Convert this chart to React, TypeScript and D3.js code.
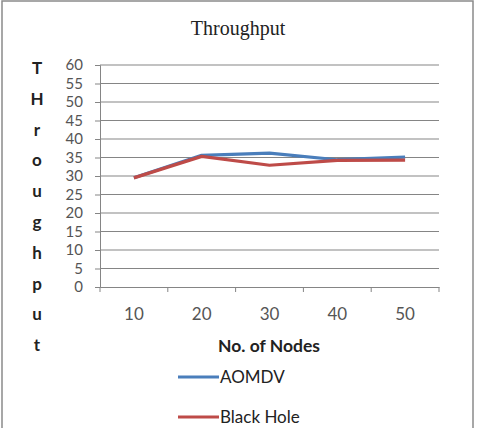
import React, { useEffect, useRef } from 'react';
import * as d3 from 'd3';

const nodes = ['10', '20', '30', '40', '50'];
const aomdv = [29.5, 35.6, 36.2, 34.4, 35.1];
const blackHole = [29.5, 35.3, 32.9, 34.2, 34.3];
const yTicks = [0, 5, 10, 15, 20, 25, 30, 35, 40, 45, 50, 55, 60];
const yTitleLetters = ['T', 'H', 'r', 'o', 'u', 'g', 'h', 'p', 'u', 't'];

const W = 478, H = 428;
const font = 'Lato, "Open Sans", sans-serif';

function App() {
  const ref = useRef<SVGSVGElement | null>(null);

  useEffect(() => {
    const svg = d3.select(ref.current);
    svg.selectAll('*').remove();

    // outer frame
    svg.append('rect')
      .attr('x', 2).attr('y', 1).attr('width', 471).attr('height', 430)
      .attr('fill', '#fff').attr('stroke', '#8a8a8a').attr('stroke-width', 1.5);

    const left = 100, right = 439, top = 65, bottom = 287;

    const x = d3.scaleBand().domain(nodes).range([left, right]).padding(0);
    const y = d3.scaleLinear().domain([0, 60]).range([bottom, top]);

    // title
    svg.append('text')
      .attr('x', 238).attr('y', 35)
      .attr('text-anchor', 'middle')
      .style('font-family', '"Liberation Serif", "DejaVu Serif", serif')
      .style('font-size', '20px')
      .attr('fill', '#222')
      .text('Throughput');

    // gridlines
    svg.append('g').selectAll('line')
      .data(yTicks.filter(d => d > 0))
      .join('line')
      .attr('x1', left).attr('x2', right)
      .attr('y1', d => y(d)).attr('y2', d => y(d))
      .attr('stroke', '#858585').attr('stroke-width', 1.2);

    // y axis
    const yAxis = svg.append('g')
      .attr('transform', `translate(${left},0)`)
      .call(d3.axisLeft(y).tickValues(yTicks).tickSize(5).tickPadding(12));
    yAxis.select('.domain').attr('stroke', '#858585');
    yAxis.selectAll('.tick line').attr('stroke', '#858585');
    yAxis.selectAll('.tick text')
      .attr('fill', '#555')
      .style('font-family', font)
      .style('font-size', '15px');

    // x axis
    const xAxis = svg.append('g')
      .attr('transform', `translate(0,${bottom})`)
      .call(d3.axisBottom(x).tickSize(0).tickPadding(21));
    xAxis.select('.domain').attr('stroke', '#858585');
    xAxis.selectAll('.tick text')
      .attr('fill', '#555')
      .style('font-family', font)
      .style('font-size', '17px');
    // category boundary ticks
    const bounds = nodes.map(d => x(d) as number).concat([right]);
    xAxis.selectAll('line.bound')
      .data(bounds)
      .join('line')
      .attr('class', 'bound')
      .attr('x1', d => d).attr('x2', d => d)
      .attr('y1', 0).attr('y2', 5)
      .attr('stroke', '#858585');

    // x title
    svg.append('text')
      .attr('x', 269).attr('y', 352)
      .attr('text-anchor', 'middle')
      .style('font-family', font)
      .style('font-size', '17.5px')
      .style('font-weight', 'bold')
      .attr('fill', '#222')
      .text('No. of Nodes');

    // vertical y title letters
    svg.append('g').selectAll('text')
      .data(yTitleLetters)
      .join('text')
      .attr('x', 37)
      .attr('y', (d, i) => 74 + i * 30.8)
      .attr('text-anchor', 'middle')
      .style('font-family', font)
      .style('font-size', '17px')
      .style('font-weight', 'bold')
      .attr('fill', '#222')
      .text(d => d);

    const cx = (d: string) => (x(d) as number) + x.bandwidth() / 2;
    const line = d3.line<number>()
      .x((d, i) => cx(nodes[i]))
      .y(d => y(d));

    const series = [
      { name: 'AOMDV', values: aomdv, color: '#4a7ebb' },
      { name: 'Black Hole', values: blackHole, color: '#be4b48' },
    ];

    series.forEach(s => {
      svg.append('path')
        .datum(s.values)
        .attr('fill', 'none')
        .attr('stroke', s.color)
        .attr('stroke-width', 3.2)
        .attr('stroke-linejoin', 'round')
        .attr('d', line);
    });

    // legend
    const legend = svg.append('g');
    series.forEach((s, i) => {
      const ly = 377 + i * 40;
      legend.append('line')
        .attr('x1', 178).attr('x2', 219)
        .attr('y1', ly).attr('y2', ly)
        .attr('stroke', s.color).attr('stroke-width', 3);
      legend.append('text')
        .attr('x', 220).attr('y', ly + 6)
        .style('font-family', font)
        .style('font-size', '17px')
        .attr('fill', '#222')
        .text(s.name);
    });
  }, []);

  return (
    <svg ref={ref} width={W} height={H}
      style={{ position: 'absolute', left: 0, top: 0, background: '#fff' }} />
  );
}

export default App;
